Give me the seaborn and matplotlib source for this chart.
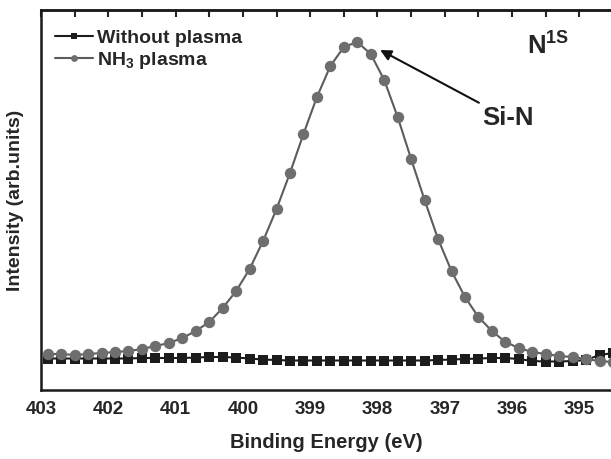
import numpy as np
import pandas as pd
import seaborn as sns
import matplotlib.pyplot as plt
from matplotlib.ticker import MultipleLocator

# binding energy (eV), one point every 0.2 eV
energy = [402.9, 402.7, 402.5, 402.3, 402.1, 401.9, 401.7, 401.5, 401.3, 401.1,
          400.9, 400.7, 400.5, 400.3, 400.1, 399.9, 399.7, 399.5, 399.3, 399.1,
          398.9, 398.7, 398.5, 398.3, 398.1, 397.9, 397.7, 397.5, 397.3, 397.1,
          396.9, 396.7, 396.5, 396.3, 396.1, 395.9, 395.7, 395.5, 395.3, 395.1,
          394.9, 394.7, 394.5]

# intensity (arb. units)
without_plasma = [31.5, 31.5, 31.5, 31.5, 31.5, 31.5, 31.5, 32, 32, 32,
                  32, 32.5, 33, 33, 32.5, 31.5, 30.5, 30, 29.5, 29.5,
                  29.5, 29.5, 29.5, 29.5, 29.5, 29.5, 29.5, 29.5, 29.5, 30,
                  30.5, 31, 31.5, 32, 32, 31, 29, 28.5, 28.5, 29,
                  30, 35, 37]
nh3_plasma = [36, 36, 35, 36, 37, 38, 39, 41, 44, 47,
              52, 59, 68, 82, 99, 121, 149, 181, 217, 256,
              293, 324, 343, 348, 336, 310, 273, 231, 190, 151,
              119, 93, 73, 59, 48, 42, 38, 36, 34, 33,
              31, 29, 28]

df = pd.DataFrame({'energy': energy, 'without': without_plasma, 'nh3': nh3_plasma})

sns.set_style('white')
plt.rcParams['font.family'] = ['Liberation Sans', 'DejaVu Sans']
plt.rcParams['font.weight'] = 'bold'
plt.rcParams['mathtext.fontset'] = 'custom'
plt.rcParams['mathtext.rm'] = 'Liberation Sans:bold'
plt.rcParams['mathtext.it'] = 'Liberation Sans:bold'
plt.rcParams['mathtext.bf'] = 'Liberation Sans:bold'

fig = plt.figure(figsize=(6.11, 4.59), dpi=100)
ax = fig.add_axes([0.0671, 0.1503, 0.9329, 0.8279])

sns.lineplot(data=df, x='energy', y='without', ax=ax, color='#1c1c1c',
             marker='s', markersize=7.4, markeredgewidth=0, linewidth=1.5,
             label='Without plasma', zorder=2)
sns.lineplot(data=df, x='energy', y='nh3', ax=ax, color='#5c5c5c',
             marker='o', markersize=8.2, markerfacecolor='#6e6e6e',
             markeredgewidth=0, linewidth=1.5, label=r'NH$_3$ plasma', zorder=3)

ax.set_xlim(403, 394.53)
ax.set_ylim(0, 380)
ax.set_yticks([])
ax.xaxis.set_major_locator(MultipleLocator(1))
ax.xaxis.set_minor_locator(MultipleLocator(0.5))
ax.tick_params(axis='x', which='major', direction='out', length=5, width=1.5,
               labelsize=13.5, pad=3, top=False)
ax.tick_params(axis='x', which='minor', direction='out', length=3, width=1.5,
               top=False)
for lbl in ax.get_xticklabels():
    lbl.set_fontweight('bold')

# inward ticks along the top spine
top = ax.secondary_xaxis('top')
top.xaxis.set_major_locator(MultipleLocator(0.5))
top.tick_params(direction='in', length=5, width=1.5, labeltop=False)
top.spines['top'].set_linewidth(1.8)

for side in ['left', 'bottom', 'top']:
    ax.spines[side].set_linewidth(1.8)
    ax.spines[side].set_color('#1a1a1a')
ax.spines['right'].set_visible(False)

ax.set_xlabel('Binding Energy (eV)', fontsize=14.5, fontweight='bold', labelpad=11)
ax.set_ylabel('Intensity (arb.units)', fontsize=14, fontweight='bold', labelpad=12)

leg = ax.legend(loc='upper left', frameon=False, fontsize=14, handlelength=2,
                handletextpad=0.2, labelspacing=0.15, markerscale=0.6,
                borderaxespad=0.3, bbox_to_anchor=(0.0, 0.985))
for t in leg.get_texts():
    t.set_fontweight('bold')

ax.annotate('Si-N', xy=(397.96, 340), xytext=(396.45, 272),
            fontsize=18.5, fontweight='bold', ha='left', va='center',
            arrowprops=dict(arrowstyle='-|>', color='#111111', lw=1.5,
                            mutation_scale=16, shrinkA=0, shrinkB=0))
ax.text(395.78, 344, r'N$^{\mathregular{1S}}$', fontsize=18.5, fontweight='bold',
        ha='left', va='center')

fig.savefig('out.png', dpi=100)
